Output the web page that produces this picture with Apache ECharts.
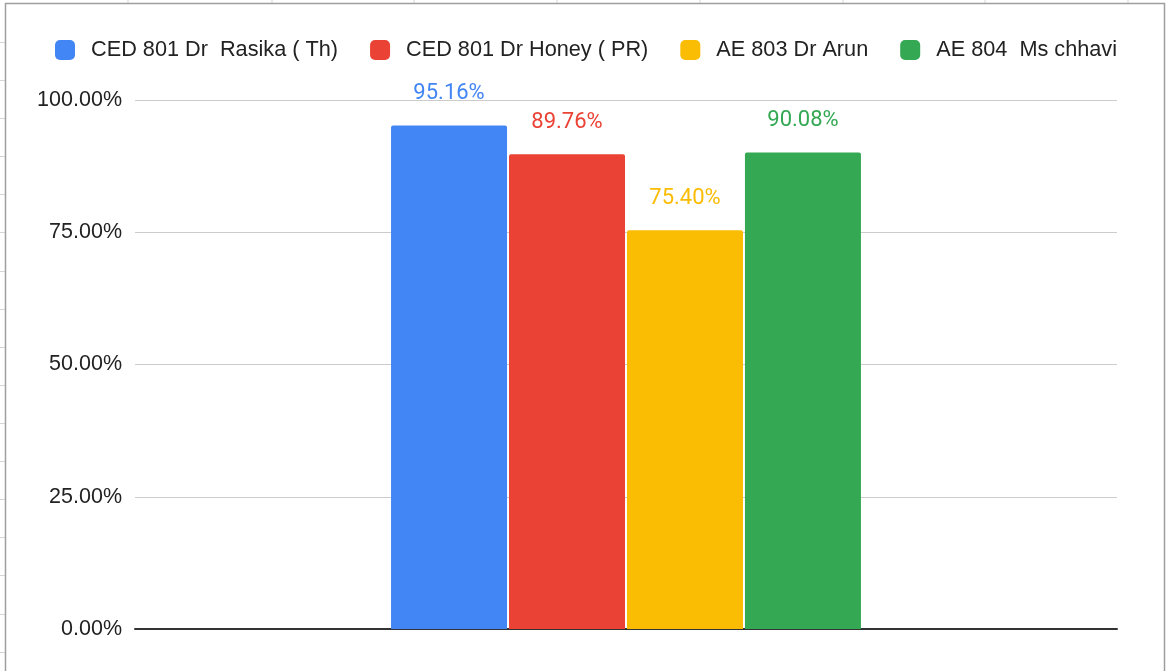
<!DOCTYPE html>
<html>
<head>
<meta charset="utf-8">
<script src="https://cdn.jsdelivr.net/npm/echarts@6/dist/echarts.min.js"></script>
<style>
html,body{margin:0;padding:0;background:#fff;}
#chart{width:1168px;height:671px;}
</style>
</head>
<body>
<div id="chart"></div>
<script>
const categories = [''];
const seriesNames = ['CED 801 Dr  Rasika ( Th)', 'CED 801 Dr Honey ( PR)', 'AE 803 Dr Arun', 'AE 804  Ms chhavi'];
const seriesValues = [[95.16], [89.76], [75.40], [90.08]];
const seriesColors = ['#4285F4', '#EA4335', '#FBBC04', '#34A853'];
const yTicks = [0, 25, 50, 75, 100];

const chart = echarts.init(document.getElementById('chart'), null, {renderer: 'canvas'});

// spreadsheet frame decoration
const deco = [];
[128, 272, 414, 557, 700, 843, 985, 1128].forEach(x => {
  deco.push({type: 'line', shape: {x1: x, y1: 0, x2: x, y2: 4}, style: {stroke: '#d6d6d6', lineWidth: 1}, silent: true});
});
for (let y = 42; y < 671; y += 38.1) {
  deco.push({type: 'line', shape: {x1: 0, y1: Math.round(y) + 0.5, x2: 5, y2: Math.round(y) + 0.5}, style: {stroke: '#d6d6d6', lineWidth: 1}, silent: true});
}
deco.push({type: 'rect', shape: {x: 5.5, y: 3.5, width: 1159, height: 700}, style: {fill: null, stroke: '#9e9e9e', lineWidth: 1.5}, silent: true});

const series = seriesNames.map((name, i) => ({
  name: name,
  type: 'bar',
  data: seriesValues[i],
  barWidth: 116,
  barGap: '1.7%',
  itemStyle: {color: seriesColors[i], borderRadius: [2, 2, 0, 0]},
  label: {
    show: true,
    position: 'top',
    distance: 21,
    color: seriesColors[i],
    fontFamily: 'Roboto',
    fontSize: 22,
    formatter: p => p.value.toFixed(2) + '%'
  }
}));

chart.setOption({
  backgroundColor: '#ffffff',
  animation: false,
  graphic: deco,
  legend: {
    data: seriesNames,
    left: 55,
    top: 39,
    padding: 0,
    itemWidth: 20,
    itemHeight: 20,
    itemGap: 32,
    icon: 'roundRect',
    textStyle: {fontFamily: 'Liberation Sans, Arial, sans-serif', fontSize: 21.7, color: '#222222', padding: [0, 0, 0, 11]}
  },
  grid: {left: 135, right: 51, top: 100, bottom: 42, containLabel: false},
  xAxis: {
    type: 'category',
    data: categories,
    axisLine: {lineStyle: {color: '#333333', width: 2}},
    axisTick: {show: false},
    axisLabel: {show: false}
  },
  yAxis: {
    type: 'value',
    min: yTicks[0],
    max: yTicks[yTicks.length - 1],
    interval: 25,
    axisLine: {show: false},
    axisTick: {show: false},
    axisLabel: {
      margin: 13,
      fontFamily: 'Liberation Sans, Arial, sans-serif',
      fontSize: 21.5,
      color: '#222222',
      formatter: v => v.toFixed(2) + '%'
    },
    splitLine: {lineStyle: {color: '#cccccc', width: 1}}
  },
  series: series
});
</script>
</body>
</html>
